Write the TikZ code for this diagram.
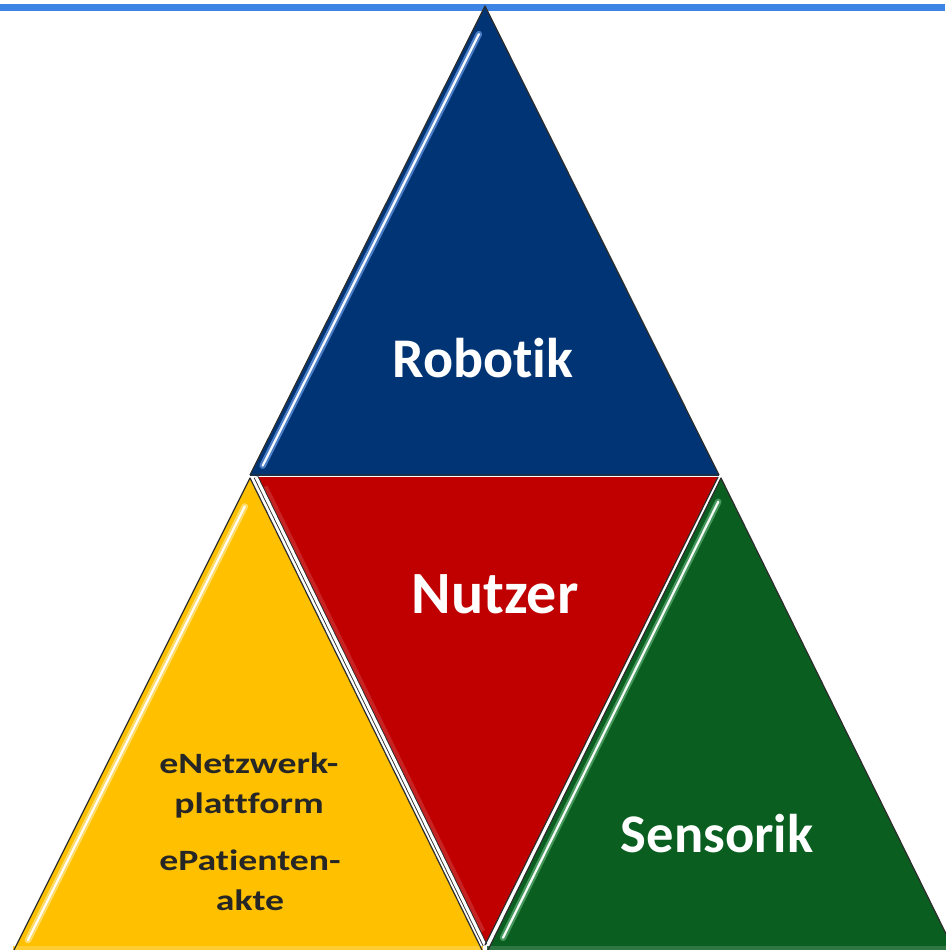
\documentclass[tikz,border=0pt]{standalone}
\usepackage{fontspec}
\setmainfont{Carlito}[Ligatures=NoCommon]
\usepackage{graphicx}
\usetikzlibrary{calc}
\definecolor{topblue}{RGB}{62,132,228}
\definecolor{tblue}{RGB}{0,52,116}
\definecolor{tred}{RGB}{192,0,0}
\definecolor{tyellow}{RGB}{255,192,0}
\definecolor{tgreen}{RGB}{10,94,32}
\definecolor{edgec}{RGB}{45,45,45}
\definecolor{ytext}{RGB}{38,38,38}
\definecolor{bhalo}{RGB}{100,150,225}
\definecolor{yhalo}{RGB}{255,230,140}
\definecolor{ghalo}{RGB}{90,170,110}
\tikzset{
  outline/.style={draw=edgec, line width=1.2pt, line join=round},
  halo/.style={line width=6.5pt, line cap=round, draw=#1, opacity=0.75},
  shine/.style={line width=2.2pt, line cap=round, draw=white, opacity=0.95},
  biglabel/.style={text=white, font=\bfseries\fontsize{#1}{#1}\selectfont, inner sep=0pt},
  smalllabel/.style={text=ytext, font=\bfseries\fontsize{29.5}{29.5}\selectfont, inner sep=0pt, anchor=base}
}
\begin{document}
\begin{tikzpicture}[x=1pt,y=-1pt]
\useasboundingbox (0,0) rectangle (945,950);
% corners
\coordinate (L1) at (0,8);
\coordinate (L2) at (945,8);
\coordinate (B1) at (485,6);
\coordinate (B2) at (250,475);
\coordinate (B3) at (719,475);
\coordinate (Y1) at (250,478);
\coordinate (Y2) at (13,952);
\coordinate (Y3) at (483,952);
\coordinate (G1) at (721,478);
\coordinate (G2) at (487,952);
\coordinate (G3) at (955,952);
\coordinate (R1) at (256,477);
\coordinate (R2) at (718,477);
\coordinate (R3) at (485,945);
% top line
\draw[topblue, line width=7pt] (L1) -- (L2);
% blue triangle
\fill[tblue] (B1) -- (B2) -- (B3) -- cycle;
\draw[halo=bhalo] ([xshift=8pt]$(B1)!0.06!(B2)$) -- ([xshift=8pt]$(B1)!0.98!(B2)$);
\draw[shine] ([xshift=8pt]$(B1)!0.06!(B2)$) -- ([xshift=8pt]$(B1)!0.98!(B2)$);
\draw[outline] (B2) -- (B1) -- (B3);
\draw[edgec!60!tblue, line width=1.5pt] (B2) -- (B3);
% yellow triangle
\fill[tyellow] (Y1) -- (Y2) -- (Y3) -- cycle;
\fill[tyellow!80!white] ($(Y2)+(0,-6)$) -- ($(Y3)+(0,-6)$) -- (Y3) -- (Y2) -- cycle;
\draw[halo=yhalo] ([xshift=9pt]$(Y1)!0.06!(Y2)$) -- ([xshift=9pt]$(Y1)!0.975!(Y2)$);
\draw[shine] ([xshift=9pt]$(Y1)!0.06!(Y2)$) -- ([xshift=9pt]$(Y1)!0.975!(Y2)$);
\draw[outline] (Y2) -- (Y1) -- (Y3);
% green triangle
\fill[tgreen] (G1) -- (G2) -- (G3) -- cycle;
\fill[tgreen!85!white] ($(G2)+(0,-6)$) -- ($(G3)+(0,-6)$) -- (G3) -- (G2) -- cycle;
\draw[halo=ghalo] ([xshift=9pt]$(G1)!0.05!(G2)$) -- ([xshift=9pt]$(G1)!0.97!(G2)$);
\draw[shine] ([xshift=9pt]$(G1)!0.05!(G2)$) -- ([xshift=9pt]$(G1)!0.97!(G2)$);
\draw[outline] (G2) -- (G1) -- (G3);
% red triangle
\fill[tred] (R1) -- (R2) -- (R3) -- cycle;
\draw[line width=4pt, draw=tred!60!white, opacity=0.35] ([xshift=5pt]$(R1)!0.02!(R3)$) -- ([xshift=5pt]$(R1)!0.97!(R3)$);
\draw[draw=edgec, line width=0.9pt, double=white, double distance=3pt] (R1) -- (R3);
\draw[outline] (R3) -- (R2);
% labels
\node[biglabel=56, anchor=base] (robotik) at (483,377) {Robotik};
\node[biglabel=60, anchor=base] (nutzer) at (495,613) {Nutzer};
\node[biglabel=54.5, anchor=base] (sensorik) at (717,852) {Sensorik};
\node[smalllabel] (l1) at (249,773) {\scalebox{1.28}[1]{eNetzwerk-}};
\node[smalllabel] (l2) at (249,813) {\scalebox{1.28}[1]{plattform}};
\node[smalllabel] (l3) at (250,870) {\scalebox{1.28}[1]{ePatienten-}};
\node[smalllabel] (l4) at (250,910) {\scalebox{1.28}[1]{akte}};
\end{tikzpicture}
\end{document}
